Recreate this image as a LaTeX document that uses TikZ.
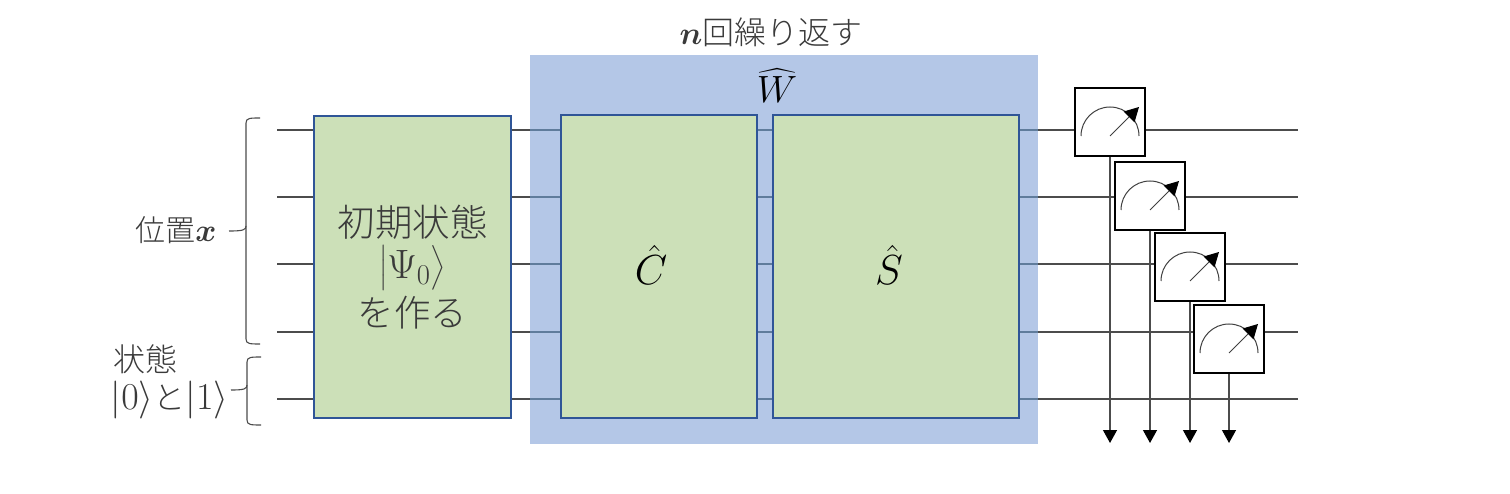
\RequirePackage{fix-cm}
\documentclass[tikz,border=0pt]{standalone}
\usepackage{amsmath}
\usepackage{fontspec}
\setmainfont{Noto Sans CJK JP}[UprightFont=* Light]
\usetikzlibrary{arrows.meta,calc}
\definecolor{inkc}{HTML}{3A3A3A}
\definecolor{loopblue}{HTML}{B4C7E7}
\definecolor{blockgreen}{HTML}{CCE0B8}
\definecolor{blockedge}{HTML}{2F5597}
\definecolor{wiremuted}{HTML}{5F7C9C}
\tikzset{
  wire/.style={draw=black!70,line width=1.1pt},
  mutedwire/.style={draw=wiremuted,line width=1.1pt},
  gateblock/.style={draw=blockedge,fill=blockgreen,line width=2.2pt,inner sep=0pt,align=center,text=inkc},
  loopregion/.style={fill=loopblue,inner sep=0pt},
  meterbox/.style={draw=black,fill=white,line width=2.5pt,inner sep=0pt,minimum width=70pt,minimum height=68pt,
    path picture={
      \coordinate (mc) at ($(path picture bounding box.center)+(0,14)$);
      \draw[black!75,line width=1pt] ($(mc)+(-29,0)$) arc[start angle=180,end angle=0,radius=29pt];
      \draw[black!75,line width=1pt,-{Triangle[length=14pt,width=15pt,color=black]}] (mc) -- ($(mc)+(29,-29)$);
    }},
  readout/.style={draw=black!70,line width=1.3pt,-{Triangle[length=13pt,width=14pt,color=black]}},
  bracepath/.style={draw=black!70,line width=1.1pt},
  lbl/.style={inner sep=0pt,text=inkc},
}
\newcommand{\fsz}[1]{\fontsize{#1}{#1}\selectfont}
\begin{document}
\begin{tikzpicture}[x=1pt,y=-1pt]
\useasboundingbox (0,0) rectangle (1510,494);
% wires
\foreach \n/\y in {1/130,2/197,3/264,4/332,5/399}{
  \coordinate (wl\n) at (277,\y);
  \coordinate (wr\n) at (1298,\y);
  \draw[wire] (wl\n) -- (wr\n);
}
\node[loopregion,minimum width=508pt,minimum height=389pt] (loop) at (784,249.5) {};
\foreach \n in {1,...,5}{
  \draw[mutedwire] (loop.west|-wl\n) -- (loop.east|-wl\n);
}
\node[gateblock,minimum width=197pt,minimum height=302pt] (init) at (412.5,267) {};
\node[gateblock,minimum width=196pt,minimum height=303pt] (coin) at (659,266.5) {};
\node[gateblock,minimum width=246pt,minimum height=303pt] (shift) at (896,266.5) {};
\node[lbl] (t1) at (412.5,222) {\fsz{37.5}初期状態};
\node[lbl] (t2) at (412.5,268) {\fsz{41}$\bigl|\Psi_0\bigr\rangle$};
\node[lbl] (t3) at (412.5,313) {\fsz{36.5}を作る};
\node[lbl,text=black] (chat) at (651,265) {\fsz{42}$\hat{C}$};
\node[lbl,text=black] (shat) at (889,265) {\fsz{42}$\hat{S}$};
\node[lbl,text=black] (what) at (777,86) {\fsz{38}$\widehat{W}$};
\node[lbl] (title) at (771,32) {\fsz{32}$\boldsymbol{n}$回繰り返す};
% meters
\node[meterbox] (m1) at (1110,122) {};
\node[meterbox] (m2) at (1150,196) {};
\node[meterbox] (m3) at (1190,267) {};
\node[meterbox] (m4) at (1229,339) {};
\foreach \n in {1,...,4}{
  \coordinate (end\n) at (m\n.south|-0,443);
  \draw[readout] (m\n.south) -- (end\n);
}
% braces
\coordinate (bA) at (260,118);
\coordinate (bB) at (260,344);
\coordinate (bT) at (229,231);
\draw[bracepath] (bA) .. controls (250,118) and (246,118) .. (246,123) -- (246,226)
  .. controls (246,230) and (243,231) .. (bT);
\draw[bracepath] (246,226) .. controls (246,230) and (246,231) .. (246,236) -- (246,339) .. controls (246,344) and (250,344) .. (bB);
\coordinate (cA) at (261,357);
\coordinate (cB) at (261,425);
\coordinate (cT) at (231,390);
\draw[bracepath] (cA) .. controls (251,357) and (247,357) .. (247,362) -- (247,385)
  .. controls (247,389) and (244,390) .. (cT);
\draw[bracepath] (247,385) .. controls (247,389) and (247,390) .. (247,395) -- (247,420) .. controls (247,425) and (251,425) .. (cB);
\node[lbl] (pos) at (176,230) {\fsz{30}位置\fsz{32}$\boldsymbol{x}$};
\node[lbl] (st) at (145,359) {\fsz{32}状態};
\node[lbl] (kets) at (169.5,400) {\fsz{38}$|0\rangle$\fsz{32}と\fsz{38}$|1\rangle$};
\end{tikzpicture}
\end{document}
